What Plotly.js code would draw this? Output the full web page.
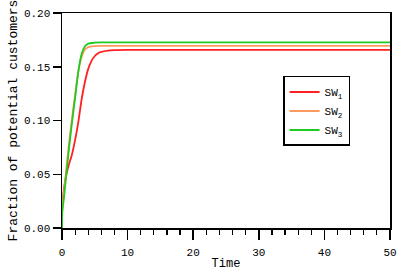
<!DOCTYPE html>
<html>
<head>
<meta charset="utf-8">
<script src="https://cdn.plot.ly/plotly-3.0.1.min.js"></script>
<style>html,body{margin:0;padding:0;background:#fff;}#chart{width:415px;height:273px;}</style>
</head>
<body>
<div id="chart"></div>
<script>
// Time points (shared per series)
var tRed = [0, 0.05, 0.5, 1, 1.5, 2, 2.5, 3, 3.5, 4, 4.5, 5, 5.5, 6, 7, 8, 10, 20, 30, 40, 50];
var sw1  = [0, 0.020, 0.045, 0.058, 0.068, 0.082, 0.099, 0.120, 0.136, 0.148, 0.1555, 0.160, 0.1625, 0.1638, 0.1650, 0.1655, 0.1657, 0.1657, 0.1657, 0.1657, 0.1657];

var tOrange = [0, 0.05, 0.3, 0.66, 1, 1.5, 2, 2.5, 3, 3.5, 4, 5, 6, 8, 10, 20, 30, 40, 50];
var sw2     = [0, 0.020, 0.033, 0.055, 0.075, 0.101, 0.124, 0.146, 0.159, 0.1660, 0.1683, 0.1692, 0.1694, 0.1694, 0.1694, 0.1694, 0.1694, 0.1694, 0.1694];

var tGreen = [0, 0.05, 0.3, 0.66, 1, 1.5, 2, 2.5, 3, 3.5, 4, 5, 6, 8, 10, 20, 30, 40, 50];
var sw3    = [0, 0.015, 0.028, 0.050, 0.070, 0.097, 0.121, 0.146, 0.162, 0.169, 0.1715, 0.1724, 0.1726, 0.1726, 0.1726, 0.1726, 0.1726, 0.1726, 0.1726];

var seriesNames = ['SW<sub>1</sub>', 'SW<sub>2</sub>', 'SW<sub>3</sub>'];
var seriesColors = ['#ff2020', '#ff9a5e', '#1ecb1e'];

var xTitle = 'Time';
var yTitle = 'Fraction of potential customers';

var FONT = 'Liberation Mono, monospace';

var traces = [
  {x: tRed, y: sw1, name: seriesNames[0]},
  {x: tOrange, y: sw2, name: seriesNames[1]},
  {x: tGreen, y: sw3, name: seriesNames[2]}
].map(function (tr, i) {
  tr.type = 'scatter';
  tr.mode = 'lines';
  tr.line = {color: seriesColors[i], width: 1.8, shape: 'spline', smoothing: 0.8};
  return tr;
});

var layout = {
  width: 415,
  height: 273,
  margin: {l: 62, r: 25, t: 13, b: 45},
  paper_bgcolor: '#fff',
  plot_bgcolor: '#fff',
  font: {family: FONT, color: '#000', size: 11},
  showlegend: true,
  legend: {
    x: 0.674, y: 0.707, xanchor: 'left', yanchor: 'top',
    bgcolor: '#fff', bordercolor: '#000', borderwidth: 1.5,
    font: {family: FONT, size: 11, color: '#000'},
    itemwidth: 30,
    tracegroupgap: 0
  },
  xaxis: {
    range: [0, 50],
    showgrid: false, zeroline: false,
    showline: true, linecolor: '#000', linewidth: 1.5, mirror: true,
    ticks: 'outside', ticklen: 10, tickwidth: 1.5, tickcolor: '#000',
    dtick: 10, tick0: 0,
    ticklabelstandoff: 3,
    minor: {dtick: 2, ticks: 'outside', ticklen: 5, tickwidth: 1.2, tickcolor: '#000', showgrid: false},
    tickfont: {family: FONT, size: 11},
    title: {text: xTitle, font: {family: FONT, size: 12}, standoff: 1}
  },
  yaxis: {
    range: [0, 0.2],
    showgrid: false, zeroline: false,
    showline: true, linecolor: '#000', linewidth: 1.5, mirror: true,
    ticks: 'outside', ticklen: 8, tickwidth: 1.5, tickcolor: '#000',
    dtick: 0.05, tick0: 0, tickformat: '.2f',
    tickfont: {family: FONT, size: 11},
    title: {text: yTitle, font: {family: FONT, size: 13}, standoff: 3}
  }
};

Plotly.newPlot('chart', traces, layout, {displayModeBar: false, staticPlot: true});
</script>
</body>
</html>
